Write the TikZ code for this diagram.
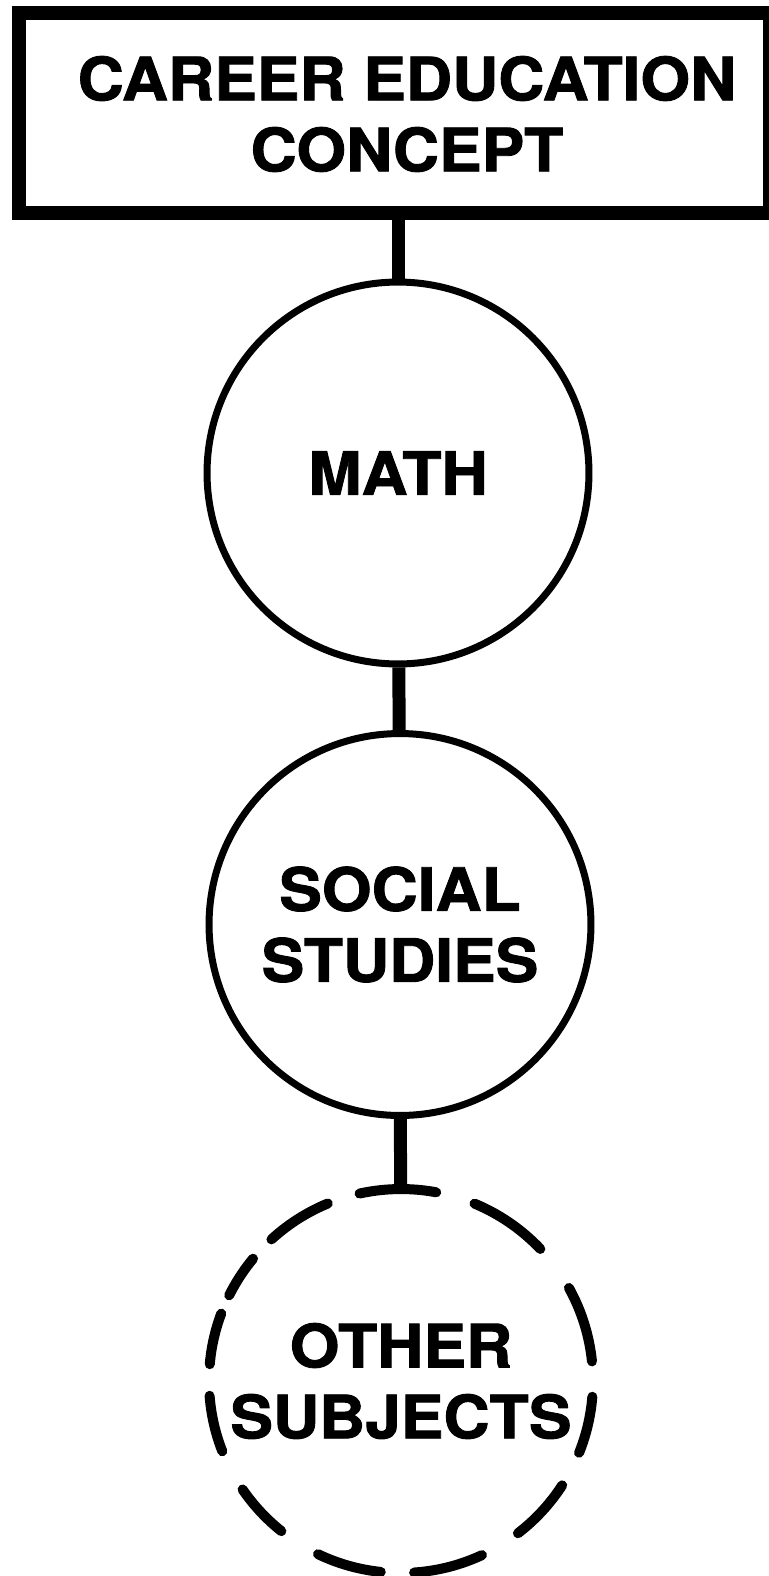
\documentclass[tikz,border=0pt]{standalone}
\usepackage{fontspec}
\setsansfont{TeX Gyre Heros}[FakeStretch=1.07, FakeBold=1.5]
\usepackage{tikz}
\definecolor{tinta}{RGB}{0,0,0}

\begin{document}
\begin{tikzpicture}[
  x=0.02cm, y=-0.02cm,
  caja/.style={rectangle, draw=tinta, line width=0.28cm, minimum width=15.02cm, minimum height=4cm, inner sep=0pt},
  circ/.style={circle, draw=tinta, line width=0.14cm, minimum size=7.64cm, inner sep=0pt},
  circdash/.style={circle, draw=tinta, line width=0.2cm, line cap=round, minimum size=7.68cm, inner sep=0pt,
    dash pattern=on 44.1pt off 27.6pt on 45.8pt off 22.8pt on 43.9pt off 19.0pt on 38.2pt off 15.2pt
      on 24.9pt off 11.4pt on 29.6pt off 18.0pt on 32.5pt off 24.7pt on 32.5pt off 24.7pt
      on 37.3pt off 19.0pt on 40.1pt off 24.0pt on 37.3pt off 20.9pt on 32.9pt off 20.1pt,
    dash phase=675.3pt},
  rot/.style={font=\sffamily\bfseries\fontsize{34pt}{40.4pt}\selectfont, text=tinta, align=center},
  enlace/.style={draw=tinta, line width=0.26cm}
]
\useasboundingbox (0,0) rectangle (768,1576);
% CONCEPT BOX
\node[caja] (concepto) at (394.5,113) {};
\node[rot] (concepto-txt) at (407,114) {CAREER EDUCATION\\CONCEPT};
% SUBJECTS
\node[circ, rot] (math) at (398,473) {MATH};
\node[circ, rot] (social) at (400,924.5) {SOCIAL\\STUDIES};
\node[circdash, rot] (otras) at (401,1381) {OTHER\\SUBJECTS};
% LINKS
\draw[enlace] (math.north |- concepto.south) -- (math.north);
\draw[enlace] (math) -- (social);
\draw[enlace] (social) -- (otras);
\end{tikzpicture}
\end{document}
